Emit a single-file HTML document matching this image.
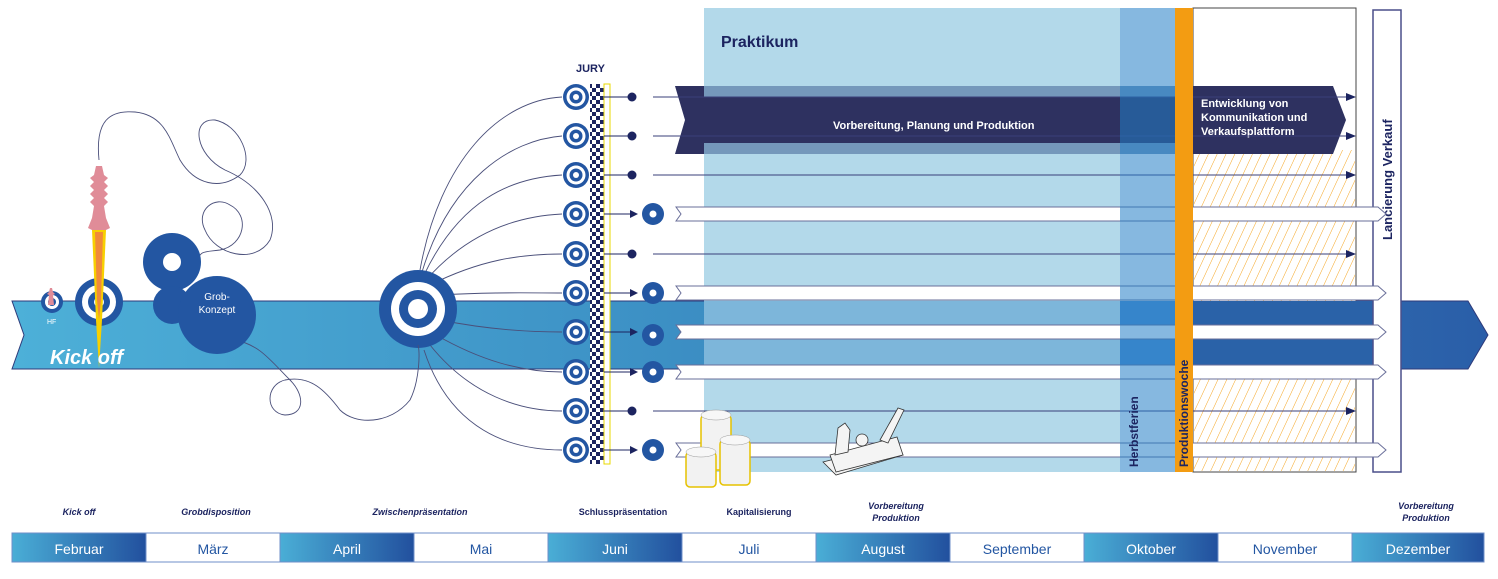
<!DOCTYPE html>
<html><head><meta charset="utf-8"><style>
html,body{margin:0;padding:0;background:#fff}
svg{display:block}
text{font-family:"Liberation Sans",sans-serif}
</style></head><body>
<svg width="1498" height="579" viewBox="0 0 1498 579" xmlns="http://www.w3.org/2000/svg">
<defs>
<linearGradient id="band" x1="0" x2="1" y1="0" y2="0">
<stop offset="0" stop-color="#4db0d8"/><stop offset="0.45" stop-color="#3c8fc4"/><stop offset="1" stop-color="#2a5ea8"/>
</linearGradient>
<linearGradient id="mon" x1="0" x2="1"><stop offset="0" stop-color="#4aaed6"/><stop offset="1" stop-color="#22509e"/></linearGradient>
<pattern id="hatch" width="8" height="8" patternUnits="userSpaceOnUse" patternTransform="rotate(25)">
<line x1="0" y1="0" x2="0" y2="8" stroke="#f5a623" stroke-width="1"/>
</pattern>
<pattern id="check" width="8" height="8" patternUnits="userSpaceOnUse">
<rect width="8" height="8" fill="#fff"/><rect width="4" height="4" fill="#1c2460"/><rect x="4" y="4" width="4" height="4" fill="#1c2460"/>
</pattern>
</defs>

<!-- main band -->
<polygon points="12,301 1468,301 1488,335 1468,369 12,369 24,335" fill="url(#band)" stroke="#2e3a7a" stroke-width="1"/>

<!-- Praktikum -->
<rect x="704" y="8" width="416" height="464" fill="#b3d9ea"/>
<rect x="704" y="301" width="416" height="68" fill="#7db6da"/>
<rect x="1120" y="8" width="55" height="464" fill="#fff"/>
<rect x="1120" y="301" width="55" height="68" fill="#4f8ed0"/>
<rect x="1193" y="8" width="163" height="464" fill="#fff" stroke="#444" stroke-width="1"/>
<rect x="1194" y="150" width="161" height="321" fill="url(#hatch)"/>
<rect x="1193" y="301" width="180" height="68" fill="#2a62a8"/>
<rect x="1373" y="10" width="28" height="462" fill="#fff" stroke="#4a4f8a" stroke-width="1.5"/>
<text transform="translate(1392,240) rotate(-90)" font-size="13" font-weight="bold" fill="#1c2460">Lancierung Verkauf</text>
<text x="721" y="47" font-size="16" font-weight="bold" fill="#1c2460">Praktikum</text>

<!-- dark arrows -->
<polygon points="675,86 1175,86 1175,154 675,154 685,120" fill="#2e3160"/>
<rect x="704" y="86" width="471" height="11" fill="#7598bb"/>
<rect x="704" y="143" width="471" height="11" fill="#7598bb"/>
<text x="833" y="129" font-size="11" font-weight="bold" fill="#fff">Vorbereitung, Planung und Produktion</text>
<polygon points="1193,86 1333,86 1346,120 1333,154 1193,154" fill="#2e3160"/>
<text font-size="11" font-weight="bold" fill="#fff"><tspan x="1201" y="107">Entwicklung von</tspan><tspan x="1201" y="121">Kommunikation und</tspan><tspan x="1201" y="135">Verkaufsplattform</tspan></text>

<!-- thin lines rows -->
<g stroke="#3a3f7a" stroke-width="1" fill="#1c2460">
<line x1="653" y1="97" x2="1352" y2="97"/><polygon points="1346,93 1356,97 1346,101" stroke="none"/>
<line x1="653" y1="136" x2="1352" y2="136"/><polygon points="1346,132 1356,136 1346,140" stroke="none"/>
<line x1="653" y1="175" x2="1352" y2="175"/><polygon points="1346,171 1356,175 1346,179" stroke="none"/>
<line x1="653" y1="254" x2="1352" y2="254"/><polygon points="1346,250 1356,254 1346,258" stroke="none"/>
<line x1="653" y1="411" x2="1352" y2="411"/><polygon points="1346,407 1356,411 1346,415" stroke="none"/>
</g>
<!-- white arrows -->
<g fill="#fff" stroke="#6a6f9a" stroke-width="1">
<polygon points="676,207 1378,207 1386,214 1378,221 676,221 681,214"/>
<polygon points="676,286 1378,286 1386,293 1378,300 676,300 681,293"/>
<polygon points="676,325 1378,325 1386,332 1378,339 676,339 681,332"/>
<polygon points="676,365 1378,365 1386,372 1378,379 676,379 681,372"/>
<polygon points="676,443 1378,443 1386,450 1378,457 676,457 681,450"/>
</g>

<!-- Herbstferien overlay + orange on top -->
<rect x="1120" y="8" width="55" height="464" fill="rgba(35,126,199,0.55)"/>
<rect x="1175" y="8" width="18" height="464" fill="#f39c12"/>
<text transform="translate(1138,467) rotate(-90)" font-size="12" font-weight="bold" fill="#1c2460">Herbstferien</text>
<text transform="translate(1188,467) rotate(-90)" font-size="12" font-weight="bold" fill="#1c2460">Produktionswoche</text>

<!-- jury column -->
<text x="576" y="72" font-size="11" font-weight="bold" fill="#1c2460">JURY</text>
<rect x="590" y="84" width="14" height="380" fill="url(#check)"/>
<rect x="604" y="84" width="6" height="380" fill="#fff" stroke="#e8d800" stroke-width="1"/>
<!-- fan lines -->
<g fill="none" stroke="#4a4f7a" stroke-width="0.9">
<path d="M420,270 C440,160 500,100 562,97"/>
<path d="M422,272 C450,180 510,140 562,136"/>
<path d="M424,275 C460,200 510,178 562,175"/>
<path d="M426,280 C470,230 520,216 562,214"/>
<path d="M430,285 C480,260 520,254 562,254"/>
<path d="M440,295 C490,292 530,293 562,293"/>
<path d="M440,320 C490,330 530,332 562,332"/>
<path d="M436,335 C480,360 520,372 562,372"/>
<path d="M430,345 C470,395 520,411 562,411"/>
<path d="M424,350 C450,430 510,450 562,450"/>
</g>
<g fill="#1c2460">
<circle cx="632" cy="97" r="4.5"/><circle cx="632" cy="136" r="4.5"/><circle cx="632" cy="175" r="4.5"/><circle cx="632" cy="254" r="4.5"/><circle cx="632" cy="411" r="4.5"/>
</g>
<g stroke="#1c2460" stroke-width="1" fill="#1c2460">
<line x1="604" y1="214" x2="635" y2="214"/><polygon points="630,210 638,214 630,218" stroke="none"/>
<line x1="604" y1="293" x2="635" y2="293"/><polygon points="630,289 638,293 630,297" stroke="none"/>
<line x1="604" y1="332" x2="635" y2="332"/><polygon points="630,328 638,332 630,336" stroke="none"/>
<line x1="604" y1="372" x2="635" y2="372"/><polygon points="630,368 638,372 630,376" stroke="none"/>
<line x1="604" y1="450" x2="635" y2="450"/><polygon points="630,446 638,450 630,454" stroke="none"/>
<line x1="604" y1="97" x2="628" y2="97"/><line x1="604" y1="136" x2="628" y2="136"/><line x1="604" y1="175" x2="628" y2="175"/><line x1="604" y1="254" x2="628" y2="254"/><line x1="604" y1="411" x2="628" y2="411"/>
</g>
<g fill="#2356a2">
<circle cx="653" cy="214" r="11"/><circle cx="653" cy="293" r="11"/><circle cx="653" cy="335" r="11"/><circle cx="653" cy="372" r="11"/><circle cx="653" cy="450" r="11"/>
</g>
<g fill="#fff">
<circle cx="653" cy="214" r="3.5"/><circle cx="653" cy="293" r="3.5"/><circle cx="653" cy="335" r="3.5"/><circle cx="653" cy="372" r="3.5"/><circle cx="653" cy="450" r="3.5"/>
</g>
<!-- jury targets -->
<g>
<g transform="translate(576,97)"><circle r="13" fill="#2356a2"/><circle r="9.5" fill="#fff"/><circle r="6.5" fill="#2356a2"/><circle r="3" fill="#fff"/></g>
<g transform="translate(576,136)"><circle r="13" fill="#2356a2"/><circle r="9.5" fill="#fff"/><circle r="6.5" fill="#2356a2"/><circle r="3" fill="#fff"/></g>
<g transform="translate(576,175)"><circle r="13" fill="#2356a2"/><circle r="9.5" fill="#fff"/><circle r="6.5" fill="#2356a2"/><circle r="3" fill="#fff"/></g>
<g transform="translate(576,214)"><circle r="13" fill="#2356a2"/><circle r="9.5" fill="#fff"/><circle r="6.5" fill="#2356a2"/><circle r="3" fill="#fff"/></g>
<g transform="translate(576,254)"><circle r="13" fill="#2356a2"/><circle r="9.5" fill="#fff"/><circle r="6.5" fill="#2356a2"/><circle r="3" fill="#fff"/></g>
<g transform="translate(576,293)"><circle r="13" fill="#2356a2"/><circle r="9.5" fill="#fff"/><circle r="6.5" fill="#2356a2"/><circle r="3" fill="#fff"/></g>
<g transform="translate(576,332)"><circle r="13" fill="#2356a2"/><circle r="9.5" fill="#fff"/><circle r="6.5" fill="#2356a2"/><circle r="3" fill="#fff"/></g>
<g transform="translate(576,372)"><circle r="13" fill="#2356a2"/><circle r="9.5" fill="#fff"/><circle r="6.5" fill="#2356a2"/><circle r="3" fill="#fff"/></g>
<g transform="translate(576,411)"><circle r="13" fill="#2356a2"/><circle r="9.5" fill="#fff"/><circle r="6.5" fill="#2356a2"/><circle r="3" fill="#fff"/></g>
<g transform="translate(576,450)"><circle r="13" fill="#2356a2"/><circle r="9.5" fill="#fff"/><circle r="6.5" fill="#2356a2"/><circle r="3" fill="#fff"/></g>
</g>

<!-- big target -->
<g transform="translate(418,309)"><circle r="39" fill="#2356a2"/><circle r="27" fill="#fff"/><circle r="19" fill="#2356a2"/><circle r="10" fill="#fff"/></g>

<!-- wiggly string -->
<g fill="none" stroke="#4a4f7a" stroke-width="0.9">
<path d="M99,160 C95,120 110,110 135,112 C165,115 170,140 180,160 C195,185 220,190 240,175 C255,160 240,125 215,120 C190,118 195,155 225,170 C260,185 280,215 270,240 C255,265 215,255 205,230 C195,210 215,195 230,205 C250,215 245,245 220,250 C205,252 200,250 197,262"/>
<path d="M235,340 C260,345 270,360 290,380 C305,395 305,415 285,415 C265,413 265,385 285,380 C310,375 325,390 340,410 C355,425 390,425 410,400 C420,380 420,350 418,345"/>
</g>
<!-- kickoff targets -->
<g transform="translate(52,302)"><circle r="11" fill="#2356a2"/><circle r="7" fill="#fff"/><circle r="4" fill="#2356a2"/></g>
<text x="47" y="324" font-size="7" fill="#fff">HF</text>
<g transform="translate(99,302)"><circle r="24" fill="#2356a2"/><circle r="17" fill="#fff"/><circle r="11" fill="#2356a2"/><circle r="5" fill="#fff"/></g>
<!-- rocket -->
<polygon points="92,230 106,230 102,320 99,368 96,320" fill="#f7d000"/>
<polygon points="95,232 103,232 101,300 99,320 97,300" fill="#f08a3a"/>
<path d="M96,166 L102,166 L104,175 L108,178 L104,182 L108,186 L104,190 L108,194 L104,198 L108,202 L104,206 L106,218 L110,228 L106,230 L92,230 L88,228 L92,218 L94,206 L90,202 L94,198 L90,194 L94,190 L90,186 L94,182 L90,178 L94,175 Z" fill="#e08c98"/>
<path d="M50,288 l2,0 l1,4 l2,2 l-2,1 l1,10 l-6,0 l1,-10 l-2,-1 l2,-2 z" fill="#e08c98"/>
<text x="50" y="364" font-size="20" font-weight="bold" font-style="italic" fill="#fff">Kick off</text>

<!-- Grob circles -->
<circle cx="172" cy="262" r="29" fill="#2356a2"/>
<circle cx="172" cy="262" r="9" fill="#fff"/>
<circle cx="172" cy="305" r="19" fill="#2356a2"/>
<circle cx="217" cy="315" r="39" fill="#2356a2"/>
<text x="217" y="300" font-size="10" fill="#fff" text-anchor="middle">Grob-</text>
<text x="217" y="313" font-size="10" fill="#fff" text-anchor="middle">Konzept</text>

<!-- coins -->
<g fill="#f2f2f2" stroke="#e6c200" stroke-width="1.5">
<rect x="701" y="415" width="30" height="55" rx="4"/>
<rect x="720" y="440" width="30" height="45" rx="4"/>
<rect x="686" y="452" width="30" height="35" rx="4"/>
</g>
<g fill="#f7f7f7" stroke="#999" stroke-width="0.5">
<ellipse cx="716" cy="415" rx="15" ry="5"/><ellipse cx="735" cy="440" rx="15" ry="5"/><ellipse cx="701" cy="452" rx="15" ry="5"/>
</g>
<!-- plane -->
<g fill="#f4f4f4" stroke="#333" stroke-width="0.8">
<polygon points="823,462 890,445 903,455 836,475"/>
<polygon points="830,455 897,437 903,455 836,472"/>
<path d="M835,455 L838,428 L845,423 L850,430 L848,452 Z"/>
<polygon points="880,440 898,408 904,410 888,443"/>
<circle cx="862" cy="440" r="6"/>
</g>

<!-- month labels -->
<g font-size="9" font-weight="bold" fill="#1c2460" text-anchor="middle">
<text x="79" y="515" font-style="italic">Kick off</text>
<text x="216" y="515" font-style="italic">Grobdisposition</text>
<text x="420" y="515" font-style="italic">Zwischenpräsentation</text>
<text x="623" y="515">Schlusspräsentation</text>
<text x="759" y="515">Kapitalisierung</text>
<text x="896" y="509" font-style="italic">Vorbereitung</text>
<text x="896" y="521" font-style="italic">Produktion</text>
<text x="1426" y="509" font-style="italic">Vorbereitung</text>
<text x="1426" y="521" font-style="italic">Produktion</text>
</g>
<g stroke="#6f8fc8" stroke-width="1">
<rect x="12" y="533" width="134" height="29" fill="url(#mon)"/>
<rect x="146" y="533" width="134" height="29" fill="#fff"/>
<rect x="280" y="533" width="134" height="29" fill="url(#mon)"/>
<rect x="414" y="533" width="134" height="29" fill="#fff"/>
<rect x="548" y="533" width="134" height="29" fill="url(#mon)"/>
<rect x="682" y="533" width="134" height="29" fill="#fff"/>
<rect x="816" y="533" width="134" height="29" fill="url(#mon)"/>
<rect x="950" y="533" width="134" height="29" fill="#fff"/>
<rect x="1084" y="533" width="134" height="29" fill="url(#mon)"/>
<rect x="1218" y="533" width="134" height="29" fill="#fff"/>
<rect x="1352" y="533" width="132" height="29" fill="url(#mon)"/>
</g>
<g font-size="14" text-anchor="middle">
<text x="79" y="554" fill="#fff">Februar</text>
<text x="213" y="554" fill="#2356a2">März</text>
<text x="347" y="554" fill="#fff">April</text>
<text x="481" y="554" fill="#2356a2">Mai</text>
<text x="615" y="554" fill="#fff">Juni</text>
<text x="749" y="554" fill="#2356a2">Juli</text>
<text x="883" y="554" fill="#fff">August</text>
<text x="1017" y="554" fill="#2356a2">September</text>
<text x="1151" y="554" fill="#fff">Oktober</text>
<text x="1285" y="554" fill="#2356a2">November</text>
<text x="1418" y="554" fill="#fff">Dezember</text>
</g>
</svg>
</body></html>
